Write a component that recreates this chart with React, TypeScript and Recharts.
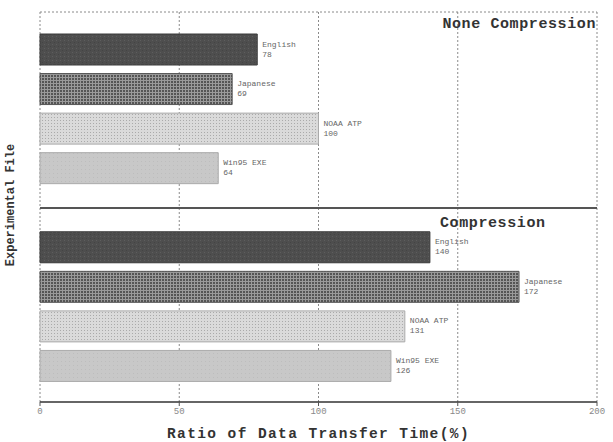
import React from 'react';
import { BarChart, Bar, XAxis, YAxis, CartesianGrid, ReferenceLine, Cell, LabelList } from 'recharts';

const files = ['English', 'Japanese', 'NOAA ATP', 'Win95 EXE'];
const noneValues = [78, 69, 100, 64];
const compValues = [140, 172, 131, 126];
const xTicks = [0, 50, 100, 150, 200];
const fills = ['url(#pEng)', 'url(#pJap)', 'url(#pNoaa)', 'url(#pWin)'];
const strokes = ['#3a3a3a', '#555', '#aaa', '#aaa'];

const data = [
  ...files.map((f, i) => ({ id: 'n-' + f, name: f, value: noneValues[i], idx: i })),
  { id: 'spacer', name: '', value: null as number | null, idx: -1 },
  ...files.map((f, i) => ({ id: 'c-' + f, name: f, value: compValues[i], idx: i })),
];

const mono = '"Liberation Mono", "DejaVu Sans Mono", monospace';

const BarLabel = (props: any) => {
  const { x, y, width, height, value } = props;
  const d = data.find((e) => e.id === value);
  if (!d || d.value == null) return null;
  const lx = x + width + 5;
  const cy = y + height / 2;
  return (
    <g>
      <text x={lx} y={cy - 3} fontFamily={mono} fontSize={8} fill="#666">{d.name}</text>
      <text x={lx} y={cy + 7} fontFamily={mono} fontSize={8} fill="#666">{d.value}</text>
    </g>
  );
};

export default function App() {
  return (
    <div style={{ position: 'absolute', left: 0, top: 0, width: 613, height: 442, background: '#fff' }}>
      <BarChart
        width={613}
        height={442}
        data={data}
        layout="vertical"
        margin={{ top: 12, right: 16, bottom: 0, left: 40 }}
        barSize={31}
      >
        <defs>
          <pattern id="pEng" width="4" height="4" patternUnits="userSpaceOnUse">
            <rect width="4" height="4" fill="#4e4e4e" />
            <rect x="0" y="0" width="1" height="1" fill="#5e5e5e" />
            <rect x="2" y="2" width="1" height="1" fill="#444" />
          </pattern>
          <pattern id="pJap" width="3" height="3" patternUnits="userSpaceOnUse">
            <rect width="3" height="3" fill="#9a9a9a" />
            <rect x="0" y="0" width="2" height="2" fill="#555" />
          </pattern>
          <pattern id="pNoaa" width="3" height="3" patternUnits="userSpaceOnUse">
            <rect width="3" height="3" fill="#dadada" />
            <rect x="0" y="0" width="1" height="1" fill="#aaa" />
          </pattern>
          <pattern id="pWin" width="4" height="4" patternUnits="userSpaceOnUse">
            <rect width="4" height="4" fill="#c8c8c8" />
            <rect x="1" y="1" width="1" height="1" fill="#bdbdbd" />
          </pattern>
        </defs>
        <CartesianGrid
          horizontal={true}
          vertical={true}
          horizontalPoints={[12]}
          stroke="#8a8a8a"
          strokeDasharray="2 2"
        />
        <XAxis
          type="number"
          dataKey="value"
          domain={[0, 200]}
          ticks={xTicks}
          axisLine={{ stroke: '#333', strokeWidth: 1.5 }}
          tickLine={{ stroke: '#555' }}
          tickSize={4}
          tick={{ fontFamily: mono, fontSize: 9, fill: '#888' }}
          height={40}
          label={{
            value: 'Ratio of Data Transfer Time(%)',
            position: 'insideBottom',
            offset: 4,
            style: { fontFamily: mono, fontSize: 14.5, fontWeight: 'bold', fill: '#333', letterSpacing: 1.4 },
          }}
        />
        <YAxis
          type="category"
          dataKey="id"
          width={0}
          tick={false}
          tickLine={false}
          axisLine={{ stroke: '#333', strokeWidth: 1.5 }}
          padding={{ top: 18, bottom: 16 }}
        />
        <ReferenceLine y="spacer" stroke="#555" strokeWidth={2} />
        <Bar dataKey="value" isAnimationActive={false}>
          {data.map((d) => (
            <Cell key={d.id} fill={d.idx >= 0 ? fills[d.idx] : 'none'} stroke={d.idx >= 0 ? strokes[d.idx] : 'none'} strokeWidth={1} />
          ))}
          <LabelList dataKey="id" content={BarLabel} />
        </Bar>
      </BarChart>
      <svg width={613} height={442} style={{ position: 'absolute', left: 0, top: 0, pointerEvents: 'none' }}>
        <text x={596} y={28} textAnchor="end" fontFamily={mono} fontSize={15} fontWeight="bold" fill="#333" letterSpacing={0.6}>None Compression</text>
        <text x={440} y={227} fontFamily={mono} fontSize={15} fontWeight="bold" fill="#333" letterSpacing={0.6}>Compression</text>
        <text x={14} y={205} transform="rotate(-90 14 205)" textAnchor="middle" fontFamily={mono} fontSize={12} fontWeight="bold" fill="#333">Experimental File</text>
      </svg>
    </div>
  );
}
